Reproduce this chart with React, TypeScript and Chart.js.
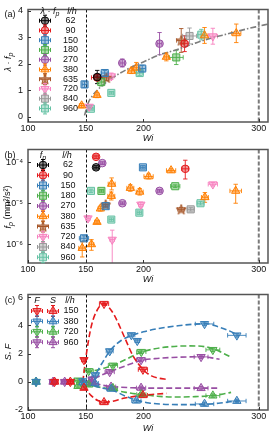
import React, { useEffect, useRef } from 'react';
import { Chart, registerables } from 'chart.js';
import { drawPoint } from 'chart.js/helpers';

Chart.register(...registerables);

const FONT = "'Liberation Sans', Arial, Helvetica, sans-serif";
const INK = '#111111';

// ---------------- shared x axis ----------------
const wiTicks = [100, 150, 200, 300];
const wiRange = [100, 308];
const onsetWi = [150];
const limitWi = [300];

// ---------------- series for panels (a) and (b) ----------------
const rateLabels = ['62', '90', '150', '180', '270', '380', '635', '720', '840', '960'];
const rateColors = ['#000000', '#e41a1c', '#377eb8', '#4daf4a', '#984ea3', '#ff7f00', '#a65628', '#f781bf', '#999999', '#66c2a5'];
const rateMarkers = ['circle', 'circle', 'rect', 'rect', 'circle', 'triangle', 'star5', 'triangleDown', 'rect', 'rect'];

// ---------------- panel (a): lambda * f_p ----------------
const aWi = [[160], [160, 235.7], [149, 166.5, 199], [163.5, 228.5], [181.7, 214], [146.5, 159.8, 189.6, 193.9, 219.9, 253, 280.5], [168, 232.8], [153, 172.2, 260.2], [240], [154.5, 172.2, 196.8, 250.2]];
const aVal = [[1.5], [1.48, 2.76], [1.22, 1.65, 1.82], [1.31, 2.24], [2.03, 2.76], [0.42, 0.82, 1.73, 1.85, 2.26, 3.07, 3.15], [1.47, 2.88], [0.38, 1.53, 3.04], [3.05], [0.3, 0.9, 1.65, 3.1]];
const aXerr = [[3], [5, 3], [2, 3, 3], [3, 6], [2, 2], [2, 2, 3, 3, 2, 3, 4], [2, 4], [2, 3, 4], [6], [2, 2, 3, 3]];
const aYerr = [[0.25], [0.1, 0.3], [0.12, 0.1, 0.12], [0.15, 0.27], [0.15, 0.42], [0.08, 0.1, 0.1, 0.2, 0.15, 0.3, 0.35], [0.1, 0.45], [0.06, 0.12, 0.3], [0.3], [0.05, 0.05, 0.1, 0.2]];
const aFitWi = [149, 152, 156, 160, 165, 170, 180, 190, 200, 214, 228, 245, 257, 275, 290, 301, 308];
const aFitVal = [0.05, 0.5, 0.8, 1.0, 1.2, 1.38, 1.65, 1.88, 2.07, 2.34, 2.52, 2.78, 2.95, 3.15, 3.32, 3.43, 3.5];
const aYTicks = [0, 1, 2, 3, 4];

// ---------------- panel (b): f_p (mm^2/s^2) ----------------
const bWi = [[159], [159, 236.3], [199.6, 167.3, 148.5], [163.6, 227.6], [164.4, 214, 181.8], [224, 204.5, 172.5, 188.7, 196.8, 280, 172.2, 253.3, 162.7, 159.8, 155, 147], [167.3, 232.8], [260.2, 197.8, 152, 173], [241], [154.6, 249.5, 196.5, 172.2]];
const bVal = [[7.5e-5], [1.35e-4, 6.9e-5], [7.5e-5, 8.5e-6, 1.4e-6], [2.0e-5, 2.6e-5], [9.5e-5, 2.0e-5, 1.0e-5], [6.3e-5, 4.5e-5, 2.96e-5, 2.35e-5, 1.9e-5, 2.0e-5, 1.5e-5, 1.4e-5, 7.4e-6, 3.5e-6, 1.0e-6, 8.1e-7], [9.3e-6, 7.1e-6], [2.9e-5, 9.3e-6, 4.3e-6, 1.3e-6], [7.1e-6], [2.0e-5, 1.0e-5, 5.9e-6, 4.0e-6]];
const bXerr = [[2], [2, 3], [2, 2, 4], [2, 4], [2, 2, 2], [4, 4, 3, 3, 3, 5, 3, 3, 2, 2, 2, 3], [3, 3], [4, 2, 2, 2], [3], [3, 3, 2, 2]];
const bYup = [[1.1], [1.1, 1.62], [1.1, 1.1, 1.15], [1.08, 1.08], [1.08, 1.08, 1.08], [1.1, 1.15, 1.4, 1.2, 1.2, 1.45, 1.25, 1.3, 1.15, 1.1, 1.3, 1.42], [1.1, 1.1], [1.1, 1.15, 1.15, 1.7], [1.1], [1.1, 1.1, 1.1, 1.1]];
const bYdn = [[1.1], [1.1, 1.77], [1.1, 1.1, 1.15], [1.08, 1.08], [1.08, 1.08, 1.08], [1.1, 1.15, 1.4, 1.2, 1.2, 2.0, 1.25, 1.33, 1.15, 1.1, 1.4, 1.65], [1.1, 1.1], [1.1, 1.15, 1.15, 10], [1.1], [1.1, 1.1, 1.1, 1.1]];
const bYTicks = [1e-6, 1e-5, 1e-4];
const bYTickLabels = ['10⁻⁶', '10⁻⁵', '10⁻⁴'];

// ---------------- panel (c): S, F ----------------
const cRates = ['150', '380', '720', '960'];
const cColors = ['#e41a1c', '#377eb8', '#4daf4a', '#984ea3'];
const cFWi = [[123, 136.7, 148.5, 165.9, 199.6], [107, 147.5, 158.4, 170.8, 189.6, 194.7, 253, 281], [107, 143.3, 152.6, 173.6, 198.2, 260.2], [121.7, 131.8, 155.5, 170.8, 198, 250]];
const cFVal = [[0, 0, 1.55, 5.54, 0.87], [0, 0.05, 0.48, 2.18, 3.32, 2.91, 4.11, 3.3], [0, 0.1, 0.77, 1.16, 2.13, 2.27], [0, 0, 0.18, 0.7, 1.55, 1.77]];
const cFXerr = [[3, 3, 2, 4, 4], [3, 3, 3, 3, 3, 2, 8, 8], [3, 3, 4, 4, 4, 6], [3, 3, 3, 4, 4, 6]];
const cSWi = [[123, 136.7, 148.5, 165.9, 199.6], [107, 147.5, 158, 172.2, 193.9, 253, 281], [107, 143.3, 152.6, 173.6, 198.2, 260.2], [121.7, 131.8, 155.5, 172, 198, 250]];
const cSVal = [[0, 0, -0.43, -1.45, -0.95], [0, -0.05, -0.1, -0.5, -1.34, -1.57, -1.36], [0, -0.3, -0.2, -0.45, -0.89, -0.98], [0, 0, -0.05, -0.35, -0.43, -0.45]];
const cSXerr = [[3, 3, 2, 4, 4], [3, 3, 3, 4, 4, 8, 8], [3, 3, 4, 4, 4, 6], [3, 3, 3, 4, 4, 6]];
const cYerr = 0.12;
const cFCurveWi = [[147.5, 151, 155, 160, 166, 170, 175, 184, 191, 200, 207, 214, 220], [153, 158, 164, 171, 181, 190, 200, 213, 230, 245, 255, 265, 275, 283], [150, 158, 165, 174, 185, 198, 210, 224, 240, 253, 262, 270, 276], [150, 156, 163, 171, 180, 190, 198, 210, 225, 240, 250, 258, 266]];
const cFCurveVal = [[0, 2.2, 4.0, 5.1, 5.55, 5.3, 4.7, 3.1, 1.85, 0.85, 0.42, 0.25, 0.18], [0.25, 0.5, 1.3, 2.2, 2.95, 3.3, 3.55, 3.78, 3.98, 4.1, 4.12, 3.9, 3.6, 3.25], [0.7, 0.8, 0.95, 1.18, 1.6, 2.1, 2.35, 2.5, 2.55, 2.5, 2.3, 2.0, 1.75], [0, 0.18, 0.45, 0.72, 1.0, 1.3, 1.52, 1.65, 1.73, 1.77, 1.78, 1.72, 1.6]];
const cSCurveWi = [[148, 155, 161, 166, 172, 184, 200, 210, 220], [150, 158, 165, 172, 184, 194, 205, 215, 235, 253, 265, 275, 283], [150, 160, 173, 185, 198, 212, 227, 245, 260, 270, 276], [150, 158, 165, 175, 190, 205, 225, 250, 266]];
const cSCurveVal = [[-0.3, -1.0, -1.35, -1.45, -1.4, -1.15, -0.95, -0.88, -0.82], [0, -0.3, -0.45, -0.55, -1.0, -1.3, -1.5, -1.58, -1.62, -1.6, -1.52, -1.42, -1.35], [-0.2, -0.35, -0.55, -0.75, -0.9, -1.02, -1.08, -1.05, -0.98, -0.85, -0.75], [0, -0.1, -0.25, -0.35, -0.42, -0.45, -0.45, -0.45, -0.45]];
const cYTicks = [-2, 0, 2, 4, 6];

// ---------------- helpers ----------------
type Seg = { t: string; it?: boolean; sub?: boolean };

function hexA(hex: string, a: number) {
  const n = parseInt(hex.slice(1), 16);
  return `rgba(${(n >> 16) & 255},${(n >> 8) & 255},${n & 255},${a})`;
}

function rich(ctx: CanvasRenderingContext2D, segs: Seg[], cx: number, cy: number, rotated: boolean, size = 9) {
  ctx.save();
  ctx.translate(cx, cy);
  if (rotated) ctx.rotate(-Math.PI / 2);
  const f = (s: Seg) => `${s.it ? 'italic ' : ''}${s.sub ? Math.round(size * 0.75) : size}px ${FONT}`;
  let w = 0;
  for (const s of segs) { ctx.font = f(s); w += ctx.measureText(s.t).width; }
  let x = -w / 2;
  ctx.fillStyle = INK;
  ctx.textBaseline = 'middle';
  ctx.textAlign = 'left';
  for (const s of segs) {
    ctx.font = f(s);
    ctx.fillText(s.t, x, s.sub ? size * 0.32 : 0);
    x += ctx.measureText(s.t).width;
  }
  ctx.restore();
}

const starCache: Record<string, HTMLCanvasElement> = {};
function starImage(color: string) {
  if (starCache[color]) return starCache[color];
  const c = document.createElement('canvas');
  c.width = 12; c.height = 12;
  const g = c.getContext('2d')!;
  g.beginPath();
  for (let i = 0; i < 10; i++) {
    const r = i % 2 ? 2.3 : 5.3;
    const a = -Math.PI / 2 + (i * Math.PI) / 5;
    g.lineTo(6 + r * Math.cos(a), 6.4 + r * Math.sin(a));
  }
  g.closePath();
  g.fillStyle = hexA(color, 0.55);
  g.fill();
  g.strokeStyle = color;
  g.lineWidth = 1;
  g.stroke();
  starCache[color] = c;
  return c;
}

function markerProps(kind: string, color: string): any {
  switch (kind) {
    case 'circle': return { pointStyle: 'circle', radius: 3.8, rotation: 0 };
    case 'rect': return { pointStyle: 'rect', radius: 5, rotation: 0 };
    case 'triangle': return { pointStyle: 'triangle', radius: 4.8, rotation: 0 };
    case 'triangleDown': return { pointStyle: 'triangle', radius: 4.8, rotation: 180 };
    default: return { pointStyle: starImage(color), radius: 5, rotation: 0 };
  }
}

function pointSet(xs: number[], ys: number[], color: string, kind: string, xe: number[], up: number[], dn: number[], log: boolean) {
  const m = markerProps(kind, color);
  return {
    type: 'scatter',
    data: xs.map((x, i) => ({ x, y: ys[i] })),
    pointStyle: m.pointStyle,
    pointRadius: m.radius,
    pointRotation: m.rotation,
    pointBackgroundColor: hexA(color, 0.45),
    pointBorderColor: color,
    pointBorderWidth: 1,
    borderColor: color,
    backgroundColor: hexA(color, 0.45),
    showLine: false,
    errX: xe,
    errUp: up,
    errDn: dn,
    errLog: log,
  };
}

function curveSet(xs: number[], ys: number[], color: string, dash: number[], width: number) {
  return {
    type: 'scatter',
    data: xs.map((x, i) => ({ x, y: ys[i] })),
    showLine: true,
    pointRadius: 0,
    borderColor: color,
    borderWidth: width,
    borderDash: dash,
    cubicInterpolationMode: 'monotone',
    fill: false,
  };
}

function legendMarker(ctx: CanvasRenderingContext2D, x: number, y: number, color: string, kind: string) {
  ctx.save();
  ctx.strokeStyle = color;
  ctx.lineWidth = 1;
  const h = 5.5, c = 2;
  ctx.beginPath();
  ctx.moveTo(x - h, y); ctx.lineTo(x + h, y);
  ctx.moveTo(x - h, y - c); ctx.lineTo(x - h, y + c);
  ctx.moveTo(x + h, y - c); ctx.lineTo(x + h, y + c);
  ctx.moveTo(x, y - h); ctx.lineTo(x, y + h);
  ctx.moveTo(x - c, y - h); ctx.lineTo(x + c, y - h);
  ctx.moveTo(x - c, y + h); ctx.lineTo(x + c, y + h);
  ctx.stroke();
  const m = markerProps(kind, color);
  ctx.fillStyle = hexA(color, 0.45);
  drawPoint(ctx, { pointStyle: m.pointStyle, rotation: m.rotation, radius: m.radius, borderWidth: 1 } as any, x, y);
  ctx.restore();
}

function legendText(ctx: CanvasRenderingContext2D, t: string, x: number, y: number) {
  ctx.save();
  ctx.font = `9px ${FONT}`;
  ctx.fillStyle = INK;
  ctx.textAlign = 'center';
  ctx.textBaseline = 'middle';
  ctx.fillText(t, x, y);
  ctx.restore();
}

const errorBars = {
  id: 'errorBars',
  beforeDatasetsDraw(chart: any) {
    const { ctx, chartArea: a } = chart;
    const sx = chart.scales.x, sy = chart.scales.y;
    ctx.save();
    ctx.beginPath();
    ctx.rect(a.left, a.top, a.right - a.left, a.bottom - a.top);
    ctx.clip();
    ctx.lineWidth = 1;
    for (const ds of chart.data.datasets) {
      if (!ds.errX) continue;
      ctx.strokeStyle = hexA(ds.borderColor, 0.9);
      ds.data.forEach((p: any, i: number) => {
        const px = sx.getPixelForValue(p.x), py = sy.getPixelForValue(p.y);
        const c = 2.2;
        ctx.beginPath();
        const ex = ds.errX[i] || 0;
        if (ex > 0) {
          const x1 = sx.getPixelForValue(p.x - ex), x2 = sx.getPixelForValue(p.x + ex);
          ctx.moveTo(x1, py); ctx.lineTo(x2, py);
          ctx.moveTo(x1, py - c); ctx.lineTo(x1, py + c);
          ctx.moveTo(x2, py - c); ctx.lineTo(x2, py + c);
        }
        const up = ds.errUp ? ds.errUp[i] : 0, dn = ds.errDn ? ds.errDn[i] : 0;
        if (up || dn) {
          const y1 = sy.getPixelForValue(ds.errLog ? p.y * up : p.y + up);
          const y2 = sy.getPixelForValue(ds.errLog ? p.y / dn : p.y - dn);
          ctx.moveTo(px, y1); ctx.lineTo(px, y2);
          ctx.moveTo(px - c, y1); ctx.lineTo(px + c, y1);
          ctx.moveTo(px - c, y2); ctx.lineTo(px + c, y2);
        }
        ctx.stroke();
      });
    }
    ctx.restore();
  },
};

const frame = {
  id: 'frame',
  beforeDatasetsDraw(chart: any) {
    const { ctx, chartArea: a } = chart;
    const sx = chart.scales.x;
    ctx.save();
    onsetWi.forEach((w) => {
      const x = Math.round(sx.getPixelForValue(w)) + 0.5;
      ctx.strokeStyle = '#111';
      ctx.lineWidth = 1;
      ctx.setLineDash([3, 2]);
      ctx.beginPath(); ctx.moveTo(x, a.top); ctx.lineTo(x, a.bottom); ctx.stroke();
    });
    limitWi.forEach((w) => {
      const x = sx.getPixelForValue(w);
      ctx.strokeStyle = '#7a7a7a';
      ctx.lineWidth = 2;
      ctx.setLineDash([4, 2]);
      ctx.beginPath(); ctx.moveTo(x, a.top); ctx.lineTo(x, a.bottom); ctx.stroke();
    });
    ctx.restore();
  },
  afterDraw(chart: any) {
    const { ctx, chartArea: a } = chart;
    const sx = chart.scales.x, sy = chart.scales.y;
    ctx.save();
    ctx.strokeStyle = '#555';
    ctx.lineWidth = 1.5;
    ctx.strokeRect(a.left, a.top, a.right - a.left, a.bottom - a.top);
    ctx.lineWidth = 1;
    ctx.strokeStyle = '#333';
    ctx.beginPath();
    sy.ticks.forEach((t: any) => {
      const y = Math.round(sy.getPixelForValue(t.value)) + 0.5;
      ctx.moveTo(a.left, y); ctx.lineTo(a.left + 3, y);
    });
    sx.ticks.forEach((t: any) => {
      const x = Math.round(sx.getPixelForValue(t.value)) + 0.5;
      ctx.moveTo(x, a.bottom); ctx.lineTo(x, a.bottom - 3);
    });
    ctx.stroke();
    ctx.restore();
  },
};

function overlay(id: string, draw: (ctx: CanvasRenderingContext2D, chart: any) => void) {
  return { id, afterDraw(chart: any) { draw(chart.ctx, chart); } };
}

function options(yScale: any, xHeight: number, padTop: number) {
  return {
    responsive: false,
    animation: false,
    events: [],
    layout: { padding: { top: padTop, right: 7, bottom: 0, left: 0 } },
    plugins: { legend: { display: false }, tooltip: { enabled: false } },
    scales: {
      x: {
        type: 'linear',
        min: wiRange[0],
        max: wiRange[1],
        afterBuildTicks: (s: any) => { s.ticks = wiTicks.map((v) => ({ value: v })); },
        afterFit: (s: any) => { s.height = xHeight; },
        ticks: { font: { size: 9, family: FONT, lineHeight: 1 }, color: INK, padding: 2, maxRotation: 0, autoSkip: false },
        grid: { display: false, drawTicks: false },
        border: { display: false },
        title: { display: true, text: 'Wi', font: { size: 9, family: FONT, style: 'italic', lineHeight: 1.2 }, color: INK, padding: { top: 0, bottom: 0 } },
      },
      y: {
        ...yScale,
        afterFit: (s: any) => { s.width = 28; },
        grid: { display: false, drawTicks: false },
        border: { display: false },
        ticks: { font: { size: 9, family: FONT, lineHeight: 1 }, color: INK, padding: 5, autoSkip: false, ...(yScale.ticks || {}) },
      },
    },
  };
}

function configA(): any {
  const datasets: any[] = rateLabels.map((_, i) =>
    pointSet(aWi[i], aVal[i], rateColors[i], rateMarkers[i], aXerr[i], aYerr[i], aYerr[i], false));
  datasets.push(curveSet(aFitWi, aFitVal, '#7d7d7d', [6, 2, 1.5, 2], 1.6));
  const legend = overlay('legendA', (ctx) => {
    rich(ctx, [{ t: '(a)' }], 10, 15, false);
    rich(ctx, [{ t: 'λ · ', it: true }, { t: 'f', it: true }, { t: 'p', it: true, sub: true }], 8, 62, true);
    rich(ctx, [{ t: 'λ · ', it: true }, { t: 'f', it: true }, { t: 'p', it: true, sub: true }], 50, 11, false);
    rich(ctx, [{ t: 'l/h', it: true }], 72, 11, false);
    rateLabels.forEach((lab, i) => {
      const y = 20.7 + i * 9.75;
      legendMarker(ctx, 45, y, rateColors[i], rateMarkers[i]);
      legendText(ctx, lab, 70.5, y);
    });
  });
  return {
    type: 'scatter',
    data: { datasets },
    options: options({
      type: 'linear', min: -0.2, max: 4.05,
      afterBuildTicks: (s: any) => { s.ticks = aYTicks.map((v) => ({ value: v })); },
    }, 22, 5),
    plugins: [errorBars, frame, legend],
  };
}

function configB(): any {
  const top = 140;
  const datasets: any[] = rateLabels.map((_, i) =>
    pointSet(bWi[i], bVal[i], rateColors[i], rateMarkers[i], bXerr[i], bYup[i], bYdn[i], true));
  const legend = overlay('legendB', (ctx) => {
    rich(ctx, [{ t: '(b)' }], 10, 156 - top, false);
    rich(ctx, [{ t: 'f', it: true }, { t: 'p', it: true, sub: true }, { t: ' (mm²/s²)' }], 8, 207 - top, true);
    rich(ctx, [{ t: 'f', it: true }, { t: 'p', it: true, sub: true }], 43, 155 - top, false);
    rich(ctx, [{ t: 'l/h', it: true }], 67, 155 - top, false);
    rateLabels.forEach((lab, i) => {
      const y = 165 + i * 10.25 - top;
      legendMarker(ctx, 43, y, rateColors[i], rateMarkers[i]);
      legendText(ctx, lab, 68, y);
    });
  });
  return {
    type: 'scatter',
    data: { datasets },
    options: options({
      type: 'logarithmic', min: 3.5e-7, max: 2.04e-4,
      afterBuildTicks: (s: any) => { s.ticks = bYTicks.map((v) => ({ value: v })); },
      ticks: { callback: (_v: any, i: number) => bYTickLabels[i] },
    }, 22, 4),
    plugins: [errorBars, frame, legend],
  };
}

function configC(): any {
  const top = 285;
  const datasets: any[] = [];
  cRates.forEach((_, i) => {
    datasets.push(pointSet(cFWi[i], cFVal[i], cColors[i], 'triangleDown', cFXerr[i], cFWi[i].map(() => cYerr), cFWi[i].map(() => cYerr), false));
    datasets.push(pointSet(cSWi[i], cSVal[i], cColors[i], 'triangle', cSXerr[i], cSWi[i].map(() => cYerr), cSWi[i].map(() => cYerr), false));
  });
  cRates.forEach((_, i) => {
    datasets.push(curveSet(cFCurveWi[i], cFCurveVal[i], cColors[i], [6, 3], 1.6));
    datasets.push(curveSet(cSCurveWi[i], cSCurveVal[i], cColors[i], [6, 3], 1.6));
  });
  const legend = overlay('legendC', (ctx) => {
    rich(ctx, [{ t: '(c)' }], 10, 301 - top, false);
    rich(ctx, [{ t: 'S', it: true }, { t: ', ' }, { t: 'F', it: true }], 8, 352 - top, true);
    rich(ctx, [{ t: 'F', it: true }], 37, 300 - top, false);
    rich(ctx, [{ t: 'S', it: true }], 53, 300 - top, false);
    rich(ctx, [{ t: 'l/h', it: true }], 70, 300 - top, false);
    cRates.forEach((lab, i) => {
      const y = 311 + i * 10.4 - top;
      legendMarker(ctx, 37, y, cColors[i], 'triangleDown');
      legendMarker(ctx, 53, y, cColors[i], 'triangle');
      legendText(ctx, lab, 71, y);
    });
  });
  return {
    type: 'scatter',
    data: { datasets },
    options: options({
      type: 'linear', min: -2, max: 6.2,
      afterBuildTicks: (s: any) => { s.ticks = cYTicks.map((v) => ({ value: v })); },
    }, 24, 4),
    plugins: [errorBars, frame, legend],
  };
}

export default function App() {
  const refA = useRef<HTMLCanvasElement>(null);
  const refB = useRef<HTMLCanvasElement>(null);
  const refC = useRef<HTMLCanvasElement>(null);

  useEffect(() => {
    document.body.style.margin = '0';
    const charts = [
      new Chart(refA.current!, configA()),
      new Chart(refB.current!, configB()),
      new Chart(refC.current!, configC()),
    ];
    return () => charts.forEach((c) => c.destroy());
  }, []);

  const cs = (top: number, h: number): React.CSSProperties => ({ position: 'absolute', left: 0, top, width: 275, height: h, display: 'block' });

  return (
    <div style={{ position: 'absolute', left: 0, top: 0, width: 275, height: 434, background: '#fff' }}>
      <canvas ref={refA} width={275} height={144} style={cs(0, 144)} />
      <canvas ref={refB} width={275} height={145} style={cs(140, 145)} />
      <canvas ref={refC} width={275} height={149} style={cs(285, 149)} />
    </div>
  );
}
